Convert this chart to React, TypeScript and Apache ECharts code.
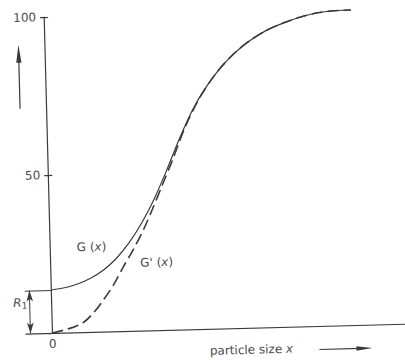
import { useEffect, useRef } from 'react';
import * as echarts from 'echarts';

// G(x): cumulative curve (solid)
const gX = [0, 4, 8, 12, 16, 20, 24, 28, 32, 36, 40, 44, 48, 52.1, 57.1, 62.3, 67.5, 72.5, 77.7, 82.8, 87.7, 92.9];
const gY = [13.6, 14.2, 15.3, 17.0, 19.5, 23.1, 28.0, 34.2, 41.8, 50.8, 60.4, 69.0, 75.8, 81.4, 86.8, 91.0, 94.1, 96.2, 97.9, 99.1, 99.6, 99.7];
// G'(x): corrected curve (dashed)
const gpX = [0, 4.6, 9.2, 12.6, 15.7, 18.9, 22.0, 25.2, 28.4, 31.3, 34.5, 37.7, 41.9, 46.7, 52.1, 57.1, 62.3, 67.5, 72.5, 77.7, 82.8, 87.7, 92.9];
const gpY = [0, 1.1, 2.9, 6.0, 10.0, 14.7, 20.3, 25.8, 31.9, 38.4, 46.0, 53.6, 64.2, 73.6, 81.4, 86.8, 91.0, 94.1, 96.2, 97.9, 99.1, 99.6, 99.7];
// residue R1 at x = 0
const R1 = 13.6;
// tick labels
const yTickLabels = [50, 100];
const xTickLabels = [0];

const INK = '#3a3a3a';
const TXT = '#4a4a4a';
const FONT = 'DejaVu Sans';

export default function App() {
  const ref = useRef<HTMLDivElement>(null);
  useEffect(() => {
    const chart = echarts.init(ref.current!, null, { renderer: 'svg' });
    const gData = gX.map((x, i) => [x, gY[i]]);
    const gpData = gpX.map((x, i) => [x, gpY[i]]);
    const yOffset = -26.4;
    chart.setOption({
      animation: false,
      grid: { left: 22, right: 0, top: 13, bottom: 31, containLabel: false, outerBoundsMode: 'none' },
      xAxis: {
        type: 'value',
        min: -8,
        max: 108,
        interval: 8,
        axisLine: { show: true, lineStyle: { color: INK, width: 1.2 } },
        axisTick: { show: false },
        splitLine: { show: false },
        axisLabel: {
          margin: 5,
          color: TXT,
          fontFamily: FONT,
          fontSize: 12,
          formatter: (v: number) => (xTickLabels.includes(v) ? String(v) : ''),
        },
      },
      yAxis: [
        {
          type: 'value',
          min: 0,
          max: 100,
          interval: 50,
          position: 'left',
          offset: yOffset,
          axisLine: { show: true, onZero: false, lineStyle: { color: INK, width: 1.2 } },
          axisTick: { show: true, inside: false, length: 4, lineStyle: { color: INK, width: 1.2 } },
          splitLine: { show: false },
          axisLabel: {
            margin: 8,
            color: TXT,
            fontFamily: FONT,
            fontSize: 12,
            formatter: (v: number) => (yTickLabels.includes(v) ? String(v) : ''),
          },
        },
        {
          type: 'value',
          min: 0,
          max: 100,
          interval: 50,
          position: 'left',
          offset: yOffset,
          axisLine: { show: false, onZero: false },
          axisTick: { show: true, inside: true, length: 4, lineStyle: { color: INK, width: 1.2 } },
          splitLine: { show: false },
          axisLabel: { show: false },
        },
      ],
      series: [
        {
          name: 'G(x)',
          type: 'line',
          data: gData,
          smooth: 0.3,
          showSymbol: false,
          silent: true,
          clip: false,
          lineStyle: { color: INK, width: 1.2 },
          markLine: {
            silent: true,
            symbol: 'none',
            label: { show: false },
            lineStyle: { color: INK, width: 1, type: 'solid' },
            data: [
              [{ coord: [-8, R1] }, { coord: [0, R1] }],
              [
                { coord: [-6.6, 0], symbol: 'arrow', symbolSize: [5, 11] },
                { coord: [-6.6, R1], symbol: 'arrow', symbolSize: [5, 11] },
              ],
            ],
          },
        },
        {
          name: "G'(x)",
          type: 'line',
          data: gpData,
          smooth: 0.3,
          showSymbol: false,
          silent: true,
          clip: false,
          lineStyle: { color: INK, width: 1.6, type: [11, 5] },
        },
      ],
      graphic: [
        { type: 'line', shape: { x1: 22, y1: 104, x2: 22, y2: 54 }, style: { stroke: INK, lineWidth: 1.2 } },
        { type: 'polygon', shape: { points: [[22, 40], [19.4, 58], [24.6, 58]] }, style: { fill: INK } },
        { type: 'line', shape: { x1: 315, y1: 352.5, x2: 356, y2: 352.5 }, style: { stroke: INK, lineWidth: 1.2 } },
        { type: 'polygon', shape: { points: [[368, 352.5], [352, 350.3], [352, 354.7]] }, style: { fill: INK } },
        {
          type: 'text',
          x: 75,
          y: 244,
          style: {
            text: '{n|G (}{i|x}{n|)}',
            verticalAlign: 'middle',
            align: 'left',
            rich: {
              n: { fontFamily: FONT, fontSize: 12, fill: TXT },
              i: { fontFamily: FONT, fontSize: 12, fontStyle: 'italic', fill: TXT },
            },
          },
        },
        {
          type: 'text',
          x: 138,
          y: 261,
          style: {
            text: "{n|G' (}{i|x}{n|)}",
            verticalAlign: 'middle',
            align: 'left',
            rich: {
              n: { fontFamily: FONT, fontSize: 12, fill: TXT },
              i: { fontFamily: FONT, fontSize: 12, fontStyle: 'italic', fill: TXT },
            },
          },
        },
        {
          type: 'text',
          x: 10,
          y: 298,
          style: {
            text: '{r|R}{s|1}',
            verticalAlign: 'middle',
            align: 'left',
            rich: {
              r: { fontFamily: FONT, fontSize: 12, fontStyle: 'italic', fill: TXT },
              s: { fontFamily: FONT, fontSize: 9, fill: TXT, padding: [6, 0, 0, 0] },
            },
          },
        },
        {
          type: 'text',
          x: 247,
          y: 351,
          style: {
            text: '{n|particle size }{i|x}',
            verticalAlign: 'middle',
            align: 'center',
            rich: {
              n: { fontFamily: FONT, fontSize: 12, fill: TXT },
              i: { fontFamily: FONT, fontSize: 12, fontStyle: 'italic', fill: TXT },
            },
          },
        },
      ],
    });
    return () => chart.dispose();
  }, []);
  return (
    <div style={{ position: 'fixed', left: 0, top: 0, width: 405, height: 360, overflow: 'hidden', background: '#fff' }}>
      <div
        ref={ref}
        style={{ width: 405, height: 360, transform: 'rotate(-1.5deg)', transformOrigin: '50% 50%' }}
      />
    </div>
  );
}
